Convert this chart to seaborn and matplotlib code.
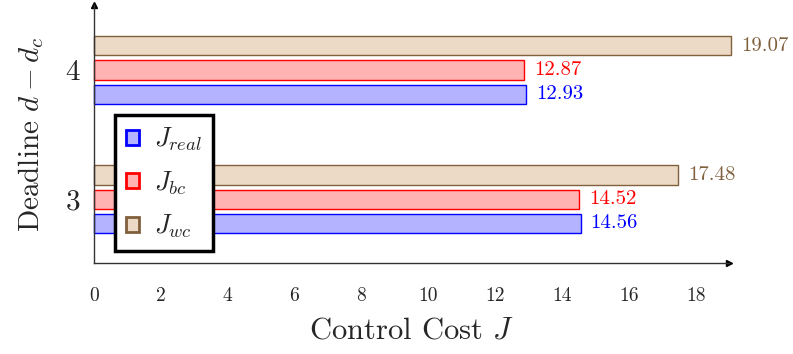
import matplotlib
matplotlib.use('Agg')

import matplotlib.pyplot as plt
from matplotlib.patches import Rectangle
import seaborn as sns
import pandas as pd

# chart data
deadlines = ['4', '4', '4', '3', '3', '3']
bounds = ['wc', 'bc', 'real', 'wc', 'bc', 'real']
costs = [19.07, 12.87, 12.93, 17.48, 14.52, 14.56]
deadline_order = ['4', '3']
hue_order = ['wc', 'bc', 'real']
legend_order = ['real', 'bc', 'wc']
legend_labels = {'real': r'$J_{real}$', 'bc': r'$J_{bc}$', 'wc': r'$J_{wc}$'}
x_ticks = [0, 2, 4, 6, 8, 10, 12, 14, 16, 18]

fills = {'real': '#b3b3ff', 'bc': '#ffb3b3', 'wc': '#ecdac6'}
edges = {'real': '#0000ff', 'bc': '#ff0000', 'wc': '#80603d'}

sns.set_style('white')
plt.rcParams['font.family'] = 'serif'
plt.rcParams['font.serif'] = ['cmr10', 'DejaVu Serif']
plt.rcParams['mathtext.fontset'] = 'cm'
plt.rcParams['axes.formatter.use_mathtext'] = True

df = pd.DataFrame({'deadline': deadlines, 'bound': bounds, 'cost': costs})

fig = plt.figure(figsize=(7.93, 3.54), dpi=100)
ax = fig.add_axes([0.1185, 0.257, 0.8008, 0.729])

sns.barplot(data=df, y='deadline', x='cost', hue='bound', orient='h',
            order=deadline_order, hue_order=hue_order, palette=fills,
            width=0.564, gap=0.2, legend=False, saturation=1, ax=ax)

for cont, b in zip(ax.containers, hue_order):
    for bar in cont:
        bar.set_edgecolor(edges[b])
        bar.set_linewidth(1.0)
        bar.set_clip_on(False)
    ax.bar_label(cont, fmt='%.2f', padding=7, color=edges[b], fontsize=15,
                 family='cmr10', annotation_clip=False)

ax.set_xlim(0, 19.0)
ax.set_ylim(1.494, -0.504)
ax.set_xticks(x_ticks)
ax.set_xticklabels([str(t) for t in x_ticks], fontsize=14)
ax.tick_params(axis='x', direction='inout', length=8, width=0.8, color='#888888', pad=13)
ax.tick_params(axis='y', direction='inout', length=8, width=0.8, color='#888888',
               labelsize=21, pad=6)

for s in ['top', 'right']:
    ax.spines[s].set_visible(False)
for s in ['left', 'bottom']:
    ax.spines[s].set_color('#333333')
    ax.spines[s].set_linewidth(1.0)

# axis arrows
ax.plot(1, 0, marker='>', ms=5, color='black', transform=ax.transAxes, clip_on=False)
ax.plot(0, 1, marker='^', ms=5, color='black', transform=ax.transAxes, clip_on=False)

ax.set_xlabel(r'Control Cost $J$', fontsize=22, labelpad=9)
ax.set_ylabel(r'Deadline $d-d_c$', fontsize=21, labelpad=14)

handles = [Rectangle((0, 0), 1, 1, facecolor=fills[b], edgecolor=edges[b], lw=2)
           for b in legend_order]
leg = ax.legend(handles, [legend_labels[b] for b in legend_order],
                loc='upper left', bbox_to_anchor=(0.033, 0.574), borderaxespad=0,
                fontsize=19, frameon=True, fancybox=False, framealpha=1,
                handlelength=0.5, handleheight=0.5, handletextpad=0.55,
                labelspacing=0.6, borderpad=0.42)
leg.get_frame().set_edgecolor('black')
leg.get_frame().set_linewidth(2.5)

plt.savefig('out.png', dpi=100)
plt.close()
